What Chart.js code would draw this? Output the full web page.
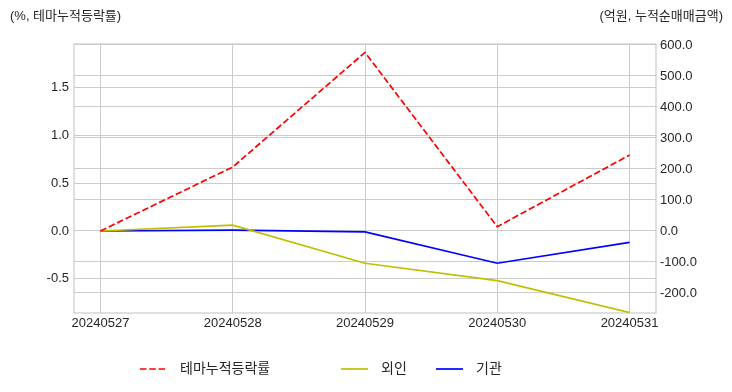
<!DOCTYPE html>
<html>
<head>
<meta charset="utf-8">
<script src="https://cdn.jsdelivr.net/npm/chart.js@4/dist/chart.umd.min.js"></script>
<style>
  html, body { margin: 0; padding: 0; background: #fff; }
  #wrap { width: 732px; height: 392px; position: relative; }
</style>
</head>
<body>
<div id="wrap"><canvas id="myChart"></canvas></div>
<script>
// data block
const dates = ['20240527', '20240528', '20240529', '20240530', '20240531'];
const themeRate = [0.0, 0.67, 1.87, 0.045, 0.795];     // %, left axis
const foreign = [0, 19, -104, -160, -263];               // 억원, right axis
const institution = [0, 3, -3, -104, -37];               // 억원, right axis
const leftTicks = [-0.5, 0.0, 0.5, 1.0, 1.5];
const rightTicks = [-200, -100, 0, 100, 200, 300, 400, 500, 600];

const FONT = "'Liberation Sans', 'Noto Sans CJK KR', sans-serif";
const GRID = '#cccccc';
const TEXT = '#262626';

const toPoints = arr => arr.map((v, i) => ({ x: i, y: v }));

// frame, titles + legend drawn like the matplotlib figure
const extras = {
  id: 'extras',
  beforeDatasetsDraw(chart) {
    const { ctx, chartArea: a } = chart;
    ctx.save();
    ctx.strokeStyle = GRID;
    ctx.lineWidth = 1.25;
    ctx.strokeRect(a.left, a.top, a.right - a.left, a.bottom - a.top);
    ctx.restore();
  },
  afterDraw(chart) {
    const { ctx } = chart;
    ctx.save();
    ctx.fillStyle = TEXT;
    ctx.font = '13px ' + FONT;
    ctx.textBaseline = 'middle';
    ctx.textAlign = 'left';
    ctx.fillText('(%, 테마누적등락률)', 10, 16);
    ctx.textAlign = 'right';
    ctx.fillText('(억원, 누적순매매금액)', 723, 16);

    // legend
    const starts = [140, 341, 436];
    const y = 369;
    ctx.textAlign = 'left';
    ctx.font = '14px ' + FONT;
    chart.data.datasets.forEach((ds, i) => {
      const x = starts[i];
      ctx.strokeStyle = ds.borderColor;
      ctx.lineWidth = ds.borderWidth;
      ctx.setLineDash(ds.borderDash || []);
      ctx.beginPath();
      ctx.moveTo(x, y);
      ctx.lineTo(x + 27, y);
      ctx.stroke();
      ctx.setLineDash([]);
      ctx.fillStyle = TEXT;
      ctx.fillText(ds.label, x + 40, y);
    });
    ctx.restore();
  }
};

const config = {
  type: 'line',
  data: {
    datasets: [
      {
        label: '테마누적등락률',
        data: toPoints(themeRate),
        yAxisID: 'y',
        borderColor: '#ff0000',
        borderWidth: 1.7,
        borderDash: [6.5, 2.8],
        pointRadius: 0,
        tension: 0
      },
      {
        label: '외인',
        data: toPoints(foreign),
        yAxisID: 'y2',
        borderColor: '#bfbf00',
        borderWidth: 1.7,
        pointRadius: 0,
        tension: 0
      },
      {
        label: '기관',
        data: toPoints(institution),
        yAxisID: 'y2',
        borderColor: '#0000ff',
        borderWidth: 1.7,
        pointRadius: 0,
        tension: 0
      }
    ]
  },
  plugins: [extras],
  options: {
    responsive: false,
    animation: false,
    events: [],
    layout: { padding: { top: 44, left: 0, right: 0, bottom: 0 } },
    plugins: {
      legend: { display: false },
      tooltip: { enabled: false }
    },
    scales: {
      x: {
        type: 'linear',
        min: -0.2,
        max: 4.2,
        afterBuildTicks: s => { s.ticks = dates.map((_, i) => ({ value: i })); },
        afterFit: s => { s.height = 79; },
        ticks: {
          callback: v => dates[v],
          color: TEXT,
          font: { size: 13, family: FONT },
          padding: 3,
          maxRotation: 0,
          autoSkip: false
        },
        grid: { color: GRID, lineWidth: 1, drawTicks: false },
        border: { display: false }
      },
      y: {
        position: 'left',
        min: -0.859,
        max: 1.958,
        afterBuildTicks: s => { s.ticks = leftTicks.map(v => ({ value: v })); },
        afterFit: s => { s.width = 74; },
        ticks: {
          callback: v => v.toFixed(1),
          color: TEXT,
          font: { size: 13, family: FONT },
          padding: 5
        },
        grid: { color: GRID, lineWidth: 1, drawTicks: false },
        border: { display: false }
      },
      y2: {
        position: 'right',
        min: -264.5,
        max: 603,
        afterBuildTicks: s => { s.ticks = rightTicks.map(v => ({ value: v })); },
        afterFit: s => { s.width = 76; },
        ticks: {
          callback: v => v.toFixed(1),
          color: TEXT,
          font: { size: 13, family: FONT },
          padding: 4
        },
        grid: { color: GRID, lineWidth: 1, drawTicks: false, drawOnChartArea: true },
        border: { display: false }
      }
    }
  }
};

const canvas = document.getElementById('myChart');
canvas.width = 732;
canvas.height = 392;
new Chart(canvas, config);
</script>
</body>
</html>
